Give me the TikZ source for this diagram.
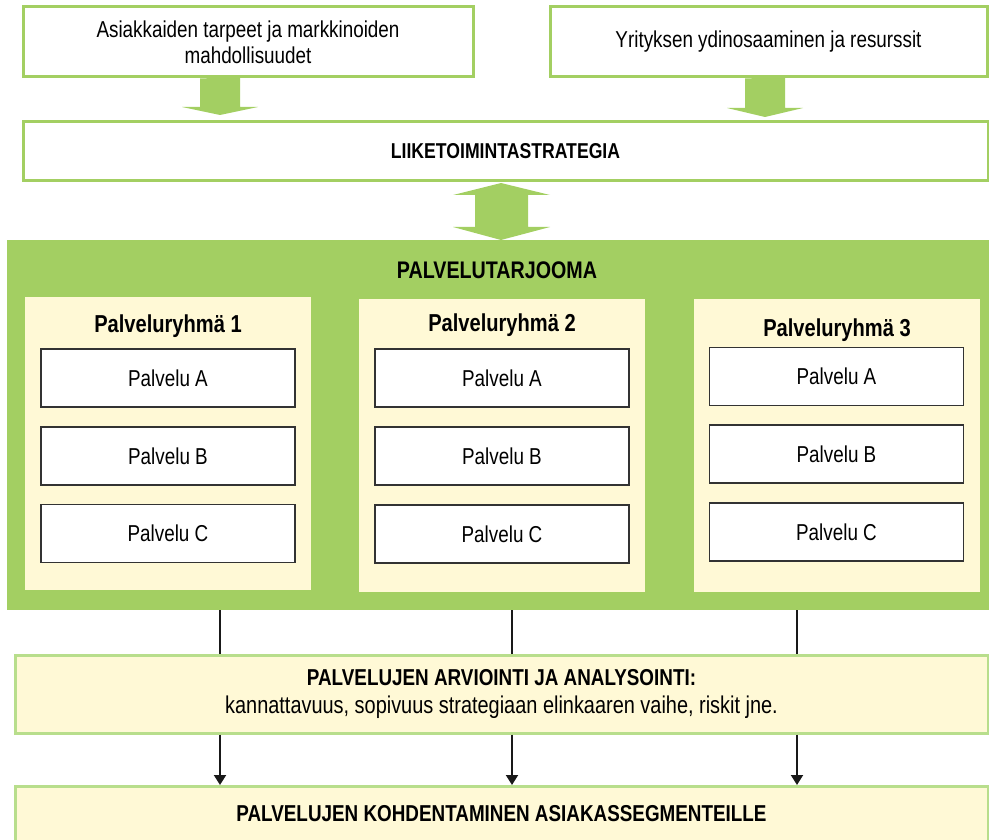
\documentclass[tikz,border=0pt]{standalone}
\usepackage{fontspec}
\setmainfont{Liberation Sans}[FakeStretch=0.82]
\usepackage{tikz}
\usetikzlibrary{arrows.meta}
\definecolor{vihrea}{RGB}{163,207,98}
\definecolor{vaalvihrea}{RGB}{184,222,140}
\definecolor{kerma}{RGB}{255,249,214}

\begin{document}
\begin{tikzpicture}[x=1pt,y=-1pt]
\tikzset{every node/.style={inner sep=0pt,font=\fontsize{23}{26}\selectfont}}
\tikzset{laatikko/.style={draw=vihrea,line width=3pt,fill=white,align=center}}
\tikzset{arviolaatikko/.style={draw=vaalvihrea,line width=3pt,fill=kerma,align=center}}
\tikzset{ryhma/.style={fill=kerma,minimum width=286pt,minimum height=293pt}}
\tikzset{palvelu/.style={draw=black!80,line width=1.1pt,fill=white,minimum width=254pt,minimum height=58pt}}
\tikzset{otsikko/.style={font=\fontsize{24.5}{28}\selectfont\bfseries}}
\tikzset{yhteys/.style={draw=black!90,line width=2pt}}
\clip (0,0) rectangle (989,840);
% top boxes
\node[laatikko,minimum width=450pt,minimum height=70pt] (tarpeet) at (248,42)
  {Asiakkaiden tarpeet ja markkinoiden\\mahdollisuudet};
\node[laatikko,minimum width=437pt,minimum height=70pt] (resurssit) at (768.5,42)
  {Yrityksen ydinosaaminen ja resurssit};
\node[laatikko,minimum width=965pt,minimum height=59pt,font=\fontsize{21.5}{24}\selectfont\bfseries] (strategia) at (505.5,151.5)
  {LIIKETOIMINTASTRATEGIA};
% fat arrows
\fill[vihrea] (tarpeet.south -| 200,0) -- (240,77) -- (240,107) -- (258,107) -- (220,115)
  -- (182,107) -- (200,107) -- cycle;
\fill[vihrea] (resurssit.south -| 745,0) -- (785,77) -- (785,108) -- (803,108) -- (765,117)
  -- (727,108) -- (745,108) -- cycle;
\fill[vihrea] (501,183) -- (550,195) -- (528,195) -- (528,227) -- (550,227) -- (501,240)
  -- (453,227) -- (475,227) -- (475,195) -- (453,195) -- cycle;
% service offering
\node[fill=vihrea,minimum width=982pt,minimum height=370pt] (tarjooma) at (498,425) {};
\node[font=\fontsize{24}{26}\selectfont\bfseries] (tarjoomaotsikko) at (497,270) {PALVELUTARJOOMA};
\node[ryhma] (ryhma1) at (167.5,443.5) {};
\node[ryhma] (ryhma2) at (502,445) {};
\node[ryhma] (ryhma3) at (837,445) {};
\node[otsikko] (otsikko1) at (168,326) {Palveluryhmä 1};
\node[otsikko] (otsikko2) at (502,325) {Palveluryhmä 2};
\node[otsikko] (otsikko3) at (837,330) {Palveluryhmä 3};
\node[palvelu] (p1a) at (168,378) {Palvelu A};
\node[palvelu] (p1b) at (168,456) {Palvelu B};
\node[palvelu] (p1c) at (168,533.5) {Palvelu C};
\node[palvelu] (p2a) at (502,378) {Palvelu A};
\node[palvelu] (p2b) at (502,456) {Palvelu B};
\node[palvelu] (p2c) at (502,534) {Palvelu C};
\node[palvelu] (p3a) at (836.5,376.5) {Palvelu A};
\node[palvelu] (p3b) at (836.5,454) {Palvelu B};
\node[palvelu] (p3c) at (836.5,532) {Palvelu C};
% evaluation and allocation
\node[arviolaatikko,minimum width=973pt,minimum height=78pt,font=\fontsize{23}{28}\selectfont] (arviointi) at (501.5,694)
  {{\bfseries PALVELUJEN ARVIOINTI JA ANALYSOINTI:}\\{\fontsize{24.3}{28}\selectfont kannattavuus, sopivuus strategiaan elinkaaren vaihe, riskit jne.}};
\node[arviolaatikko,anchor=north,minimum width=973pt,minimum height=70pt,text height=15pt,text depth=15pt,font=\fontsize{23}{26}\selectfont\bfseries] (kohdentaminen) at (501.5,785)
  {PALVELUJEN KOHDENTAMINEN ASIAKASSEGMENTEILLE};
\coordinate (v1) at (220,610);
\coordinate (v2) at (512,610);
\coordinate (v3) at (797,610);
\foreach \v in {v1,v2,v3} {
  \draw[yhteys] (\v) -- (\v |- arviointi.north);
  \draw[yhteys,-{Triangle[width=12pt,length=10pt]}] (\v |- arviointi.south) -- (\v |- kohdentaminen.north);
}
\end{tikzpicture}
\end{document}
